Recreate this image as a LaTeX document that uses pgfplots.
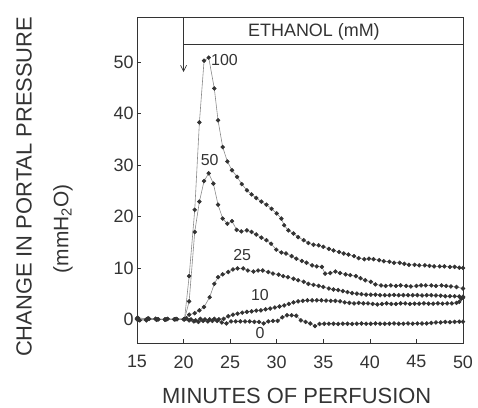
\documentclass[border=0pt]{standalone}
\usepackage{fontspec}
\setmainfont{Liberation Sans}
\usepackage{pgfplots}
\pgfplotsset{compat=1.18}
\usetikzlibrary{arrows.meta}

\definecolor{ink}{HTML}{333333}
\definecolor{lnk}{HTML}{8A8A8A}

\pgfplotsset{dat/.style={lnk, line width=0.6pt, mark=*, mark size=1.9bp,
    mark options={draw=black!80, fill=black!80}}}

\begin{document}
\begin{tikzpicture}
\begin{axis}[
    name=ax,
    scale only axis,
    width=326bp, height=326bp,
    xmin=15, xmax=50, ymin=-4.6, ymax=58.8,
    xtick={15,20,...,50}, ytick={0,10,...,50},
    tick align=inside,
    xtick pos=bottom, ytick pos=left,
    major tick length=4bp,
    axis line style={ink, line width=0.7pt},
    tick style={ink, line width=0.6pt},
    ticklabel style={font=\fontsize{18}{20}\selectfont, text=ink},
    /pgf/number format/assume math mode=true,
    xticklabel style={yshift=-9bp},
    clip=false,
]
% 0 mM
\addplot[dat] coordinates {(15.1,0.3)(16.1,0.1)(17.1,-0.1)(18.1,0)(19.1,0)(20.1,0.1)(20.6,-0.2)(21.1,-0.4)(21.6,-0.5)(22.1,-0.3)(22.6,-0.4)(23.1,-0.3)(23.6,-0.3)(24.1,-0.6)(24.6,-0.8)(25.1,-0.4)(25.6,-0.4)(26.1,-0.4)(26.6,-0.4)(27.1,-0.4)(27.6,-0.5)(28.1,-0.5)(28.6,-0.8)(29.1,-0.4)(29.6,-0.3)(30.1,-0.3)(30.6,0.4)(31.1,0.8)(31.6,0.8)(32.1,0.7)(32.6,-0.2)(33.1,-0.5)(33.6,-0.8)(34.1,-1.3)(34.6,-0.9)(35.1,-0.85)(35.6,-0.85)(36.1,-0.85)(36.6,-0.9)(37.1,-0.85)(37.6,-0.85)(38.1,-0.9)(38.6,-0.85)(39.1,-0.8)(39.6,-0.85)(40.1,-0.85)(40.6,-0.8)(41.1,-0.85)(41.6,-0.85)(42.1,-0.85)(42.6,-0.8)(43.1,-0.85)(43.6,-0.85)(44.1,-0.8)(44.6,-0.85)(45.1,-0.8)(45.6,-0.8)(46.1,-0.8)(46.6,-0.7)(47.1,-0.6)(47.6,-0.6)(48.1,-0.5)(48.6,-0.55)(49.1,-0.5)(49.6,-0.45)(50,-0.45)};
% 10 mM
\addplot[dat] coordinates {(15.3,-0.2)(16.3,0.1)(17.3,0)(18.3,0.1)(19.3,0)(20.3,0.2)(20.8,0)(21.3,-0.2)(21.8,0.1)(22.3,0)(22.8,0)(23.3,0.1)(23.8,0)(24.3,0.1)(24.8,0.6)(25.3,0.9)(25.8,1.1)(26.3,1.3)(26.8,1.45)(27.3,1.55)(27.8,1.7)(28.3,1.75)(28.8,1.95)(29.3,2.1)(29.8,2.3)(30.3,2.5)(30.8,2.7)(31.3,3.0)(31.8,3.3)(32.3,3.5)(32.8,3.6)(33.3,3.7)(33.8,3.7)(34.3,3.7)(34.8,3.7)(35.3,3.65)(35.8,3.6)(36.3,3.6)(36.8,3.5)(37.3,3.3)(37.8,3.2)(38.3,3.1)(38.8,3.2)(39.3,3.1)(39.8,3.1)(40.3,3.0)(40.8,2.9)(41.3,3.0)(41.8,3.1)(42.3,3.0)(42.8,3.0)(43.3,3.1)(43.8,3.1)(44.3,3.0)(44.8,3.05)(45.3,3.05)(45.8,3.1)(46.3,3.05)(46.8,3.05)(47.3,3.1)(47.8,3.05)(48.3,3.1)(48.8,3.1)(49.3,3.2)(49.6,3.4)(49.8,4.0)(50,4.2)};
% 25 mM
\addplot[dat] coordinates {(15,0.2)(16,0)(17,0.1)(18,-0.1)(19,0)(20,0)(20.6,0.9)(21.2,1.2)(21.7,1.75)(22.2,2.4)(22.8,4.3)(23.3,6.9)(23.7,8.2)(24.2,8.75)(24.8,9.2)(25.3,9.7)(25.8,9.9)(26.4,9.9)(26.9,9.5)(27.5,9.3)(28.0,9.5)(28.5,9.5)(29.1,9.2)(29.6,8.9)(30.2,8.7)(30.7,8.4)(31.2,8.2)(31.8,7.9)(32.3,7.6)(32.9,7.3)(33.4,6.9)(33.95,6.7)(34.5,6.5)(35.0,6.3)(35.6,6.0)(36.1,5.8)(36.6,5.7)(37.1,5.5)(37.6,5.3)(38.1,5.1)(38.6,5.0)(39.1,4.9)(39.6,4.8)(40.1,4.8)(40.6,4.8)(41.1,4.7)(41.6,4.7)(42.1,4.7)(42.6,4.75)(43.1,4.7)(43.6,4.7)(44.1,4.7)(44.6,4.7)(45.1,4.7)(45.6,4.65)(46.1,4.7)(46.6,4.7)(47.1,4.65)(47.6,4.6)(48.1,4.5)(48.6,4.5)(49.1,4.5)(49.6,4.45)(50,4.4)};
% 50 mM
\addplot[dat] coordinates {(15.2,-0.1)(16.2,0.2)(17.2,0)(18.2,0)(19.2,0.1)(20.1,0)(20.6,3.5)(21.2,17.0)(21.7,22.9)(22.2,26.9)(22.7,28.4)(23.2,26.4)(23.7,22.3)(24.2,19.6)(24.7,18.6)(25.2,19.1)(25.7,17.4)(26.2,17.1)(26.8,17.3)(27.3,17.0)(27.8,16.5)(28.35,15.9)(28.9,15.4)(29.4,14.7)(29.95,13.55)(30.5,13.0)(31.0,12.8)(31.6,12.3)(32.1,11.8)(32.7,11.35)(33.2,11.0)(33.8,10.5)(34.3,10.3)(34.85,10.2)(35.2,8.9)(35.75,9.0)(36.3,9.3)(36.8,9.0)(37.4,8.75)(37.9,8.6)(38.5,8.4)(39.0,8.0)(39.5,7.6)(40.1,7.3)(40.6,6.8)(41.2,6.6)(41.7,6.5)(42.25,6.6)(42.8,6.5)(43.3,6.6)(43.9,6.5)(44.4,6.4)(45.0,6.5)(45.5,6.6)(46.0,6.6)(46.6,6.6)(47.1,6.5)(47.7,6.6)(48.2,6.5)(48.7,6.4)(49.3,6.3)(50,6.0)};
% 100 mM
\addplot[dat] coordinates {(15,0)(16,-0.2)(17,0.1)(18,0)(19,0)(20.1,0)(20.6,8.4)(21.2,21.3)(21.7,38.3)(22.2,50.3)(22.7,50.9)(23.3,44.9)(23.7,38.7)(24.2,33.5)(24.7,30.7)(25.2,29.0)(25.75,27.7)(26.25,26.3)(26.8,25.1)(27.3,24.3)(27.8,23.6)(28.35,22.9)(28.9,22.3)(29.45,21.5)(30.0,20.6)(30.5,19.6)(30.8,18.3)(31.25,17.3)(31.8,16.7)(32.3,16.0)(32.9,15.4)(33.4,14.85)(33.95,14.5)(34.5,14.4)(35.0,14.1)(35.6,13.7)(36.1,13.4)(36.7,13.1)(37.2,12.8)(37.7,12.6)(38.3,12.3)(38.8,11.9)(39.4,11.7)(39.9,11.8)(40.4,11.7)(41.0,11.5)(41.5,11.3)(42.1,11.2)(42.6,11.0)(43.2,11.0)(43.7,10.8)(44.2,10.6)(44.8,10.6)(45.3,10.5)(45.9,10.5)(46.4,10.4)(46.9,10.3)(47.5,10.3)(48.0,10.3)(48.6,10.2)(49.1,10.2)(49.6,10.05)(50,10.0)};

% curve labels
\begin{scope}[font=\fontsize{16}{18}\selectfont, text=ink]
\node[anchor=west, inner sep=0pt] at (axis cs:22.95,50.4) {100};
\node at (axis cs:22.8,31.0) {50};
\node at (axis cs:26.3,12.5) {25};
\node at (axis cs:28.2,4.8) {10};
\node at (axis cs:28.2,-2.6) {0};
\end{scope}

% ethanol box and arrow
\draw[ink, line width=0.7pt] (axis cs:20,53.5) rectangle (axis cs:50,58.8);
\node[text=ink, font=\fontsize{18}{20}\selectfont] at (axis cs:34.0,56.0) {ETHANOL (mM)};
\draw[ink, line width=0.7pt, -{Straight Barb[length=6bp,width=6bp]}] (axis cs:20,58.8) -- (axis cs:20,48.1);

% axis titles
\node[rotate=90, text=ink, font=\fontsize{22}{24}\selectfont] at (rel axis cs:-0.3466,0.479) {CHANGE IN PORTAL PRESSURE};
\node[rotate=90, text=ink, font=\fontsize{21}{23}\selectfont] at (rel axis cs:-0.227,0.35) {(mmH\textsubscript{2}O)};
\node[text=ink, font=\fontsize{22}{24}\selectfont] at (rel axis cs:0.49,-0.1626) {MINUTES OF PERFUSION};
\end{axis}
\pgfresetboundingbox
\path (ax.south west) ++(-137bp,-65bp) rectangle ++(478bp,408bp);
\end{tikzpicture}
\end{document}
